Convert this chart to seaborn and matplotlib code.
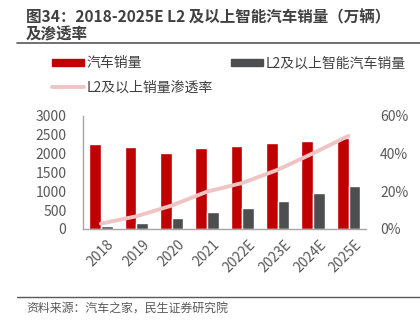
import matplotlib
matplotlib.use("Agg")
import matplotlib.pyplot as plt
import matplotlib.transforms as mtransforms
import seaborn as sns
import pandas as pd
from matplotlib.patches import Patch
from matplotlib.lines import Line2D
from matplotlib.ticker import PercentFormatter

years = ["2018", "2019", "2020", "2021", "2022E", "2023E", "2024E", "2025E"]
car_sales = [2259, 2170, 2012, 2153, 2206, 2276, 2347, 2409]
l2_sales = [71, 159, 291, 441, 565, 750, 953, 1147]
l2_rate = [0.028, 0.067, 0.124, 0.198, 0.244, 0.314, 0.402, 0.494]

s1 = "汽车销量"
s2 = "L2及以上智能汽车销量"
s3 = "L2及以上销量渗透率"

sns.set_theme(style="white")
plt.rcParams["font.family"] = ["Noto Sans CJK SC", "DejaVu Sans"]

df = pd.DataFrame({
    "year": years * 2,
    "value": car_sales + l2_sales,
    "series": [s1] * len(years) + [s2] * len(years),
})
red = "#C00000"
dark = "#4D4E50"
pink = "#F0C4C4"
gray = "#595959"

fig = plt.figure(figsize=(4.2, 3.22), dpi=100)
ax = fig.add_axes([0.198, 0.289, 0.674, 0.351])
sns.barplot(data=df, x="year", y="value", hue="series", palette=[red, dark],
            width=0.66, ax=ax, legend=False, saturation=1)
ax.set_ylim(0, 3000)
ax.set_yticks([0, 500, 1000, 1500, 2000, 2500, 3000])
ax.set_xlim(-0.5, 7.5)
ax.set_xlabel("")
ax.set_ylabel("")
for sp in ["top", "right"]:
    ax.spines[sp].set_visible(False)
for sp in ["left", "bottom"]:
    ax.spines[sp].set_color("#A6A6A6")
    ax.spines[sp].set_linewidth(1.0)
ax.tick_params(axis="both", length=0, colors=gray, labelsize=10)
ax.tick_params(axis="y", pad=12)
ax.tick_params(axis="x", pad=6)
offset = mtransforms.ScaledTranslation(6 / 100, 0, fig.dpi_scale_trans)
for lab in ax.get_xticklabels():
    lab.set_rotation(45)
    lab.set_ha("right")
    lab.set_rotation_mode("anchor")
    lab.set_transform(lab.get_transform() + offset)

ax2 = ax.twinx()
sns.lineplot(x=list(range(len(years))), y=l2_rate, ax=ax2, color=pink,
             linewidth=2.8, legend=False)
ax2.set_ylim(0, 0.6)
ax2.set_yticks([0, 0.2, 0.4, 0.6])
ax2.yaxis.set_major_formatter(PercentFormatter(1.0, decimals=0))
ax2.tick_params(axis="y", length=0, colors=gray, labelsize=10, pad=10)
for sp in ax2.spines.values():
    sp.set_visible(False)
ax2.set_ylabel("")

handles = [Patch(color=red), Line2D([0], [0], color=pink, lw=2.8), Patch(color=dark)]
labels = [s1, s3, s2]
fig.legend(handles, labels, ncol=2, loc="upper left", bbox_to_anchor=(0.1, 0.855),
           frameon=False, fontsize=10, handlelength=2.3, handleheight=0.45,
           columnspacing=1.3, handletextpad=0.2, labelspacing=0.75, labelcolor="#404040",
           borderpad=0.2)

fig.text(0.062, 0.972, "图34：2018-2025E L2 及以上智能汽车销量（万辆）\n及渗透率",
         fontsize=11.2, fontweight="bold", color="#404040", va="top", ha="left",
         linespacing=1.1)
fig.add_artist(Line2D([0.04, 1.0], [0.867, 0.867], color="#595959", lw=1.2))
fig.add_artist(Line2D([0.04, 1.0], [0.078, 0.078], color="#595959", lw=1.0))
fig.text(0.062, 0.043, "资料来源：汽车之家，民生证券研究院", fontsize=8.6, color=gray,
         va="center", ha="left")

fig.savefig("out.png", dpi=100)
